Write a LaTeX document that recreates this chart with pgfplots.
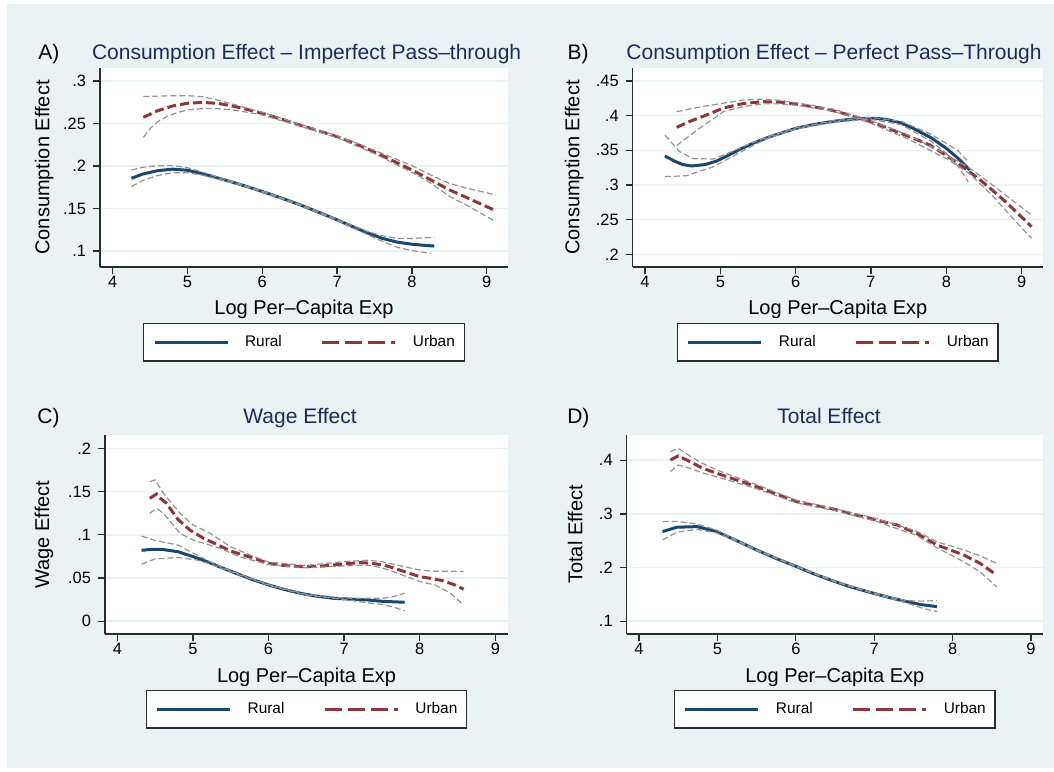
\documentclass[border=0pt]{standalone}
\usepackage{fontspec}
\setmainfont{Liberation Sans}
\usepackage{pgfplots}
\pgfplotsset{compat=1.18}

\definecolor{bgc}{HTML}{EAF2F3}
\definecolor{ttl}{HTML}{1C2C5A}
\definecolor{rural}{HTML}{1A476F}
\definecolor{urban}{HTML}{90353B}
\definecolor{cigray}{HTML}{939393}
\definecolor{axc}{HTML}{2B2B2B}

\pgfplotsset{
  panel/.style={
    scale only axis, height=99.5pt,
    axis x line*=bottom, axis y line*=left,
    axis line style={-, axc, line width=0.65pt},
    axis background/.style={fill=white},
    tick align=outside, major tick length=3.5pt,
    major tick style={axc, line width=0.65pt},
    ymajorgrids, grid style={bgc, line width=0.8pt},
    xtick={4,5,6,7,8,9}, xticklabels={4,5,6,7,8,9},
    tick label style={font=\fontsize{8.2}{9}\selectfont},
    xticklabel style={yshift=2.5pt},
    xlabel={Log Per–Capita Exp},
    label style={font=\fontsize{9.2}{11}\selectfont},
    every axis x label/.style={at={(axis description cs:0.5,0)}, anchor=base, yshift=-24pt},
    every axis title/.style={at={(0.5,1)}, anchor=base, font=\fontsize{10.5}{12}\selectfont, text=ttl},
    legend columns=2,
    legend style={at={(0.5,-0.378)}, anchor=center, draw=axc, line width=0.65pt, fill=white,
      font=\fontsize{7.7}{9}\selectfont, inner xsep=4.7pt, inner ysep=5.8pt,
      nodes={inner sep=0pt},
      column sep=8pt, /tikz/every even column/.append style={column sep=19.5pt}},
  },
  ylab/.style={every axis y label/.style={at={(axis description cs:0,0.5)}, xshift=-#1, rotate=90, anchor=center}},
  ttlpos/.style 2 args={title style={xshift=#1, yshift=#2}},
  rur/.style={rural, line width=1.5pt,
    legend image code/.code={\draw[##1] (0pt,0pt) -- (36.5pt,0pt);}},
  urb/.style={urban, line width=1.5pt, dash pattern=on 4.5pt off 2pt,
    legend image code/.code={\draw[##1, dash pattern=on 8.5pt off 3pt] (0pt,0pt) -- (36.5pt,0pt);}},
  ci/.style={cigray, line width=0.6pt, dash pattern=on 3pt off 1.5pt, forget plot},
}

\begin{document}
\begin{tikzpicture}
\fill[white] (0,0) rectangle (527pt,385.5pt);
\fill[bgc] (3.5pt,1.5pt) rectangle (527pt,383.5pt);

% A) consumption effect, imperfect pass-through
\begin{axis}[panel, name=A, at={(50pt,252pt)}, anchor=south west, width=204pt,
  xmin=3.830, xmax=9.285, ymin=0.0812, ymax=0.3153,
  ytick={.1,.15,.2,.25,.3}, yticklabels={.1,.15,.2,.25,.3},
  ylabel={Consumption Effect}, ylab=27.9pt,
  title={Consumption Effect – Imperfect Pass–through}, ttlpos={1.3pt}{4.4pt}]
\addplot[rur] coordinates {(4.25,.1855) (4.4,.1905) (4.6,.1945) (4.8,.1963) (5.0,.1950) (5.2,.1910) (5.4,.1860) (5.6,.1810) (5.8,.1757) (6.0,.1700) (6.25,.1625) (6.5,.1545) (6.75,.1457) (7.0,.1367) (7.2,.1290) (7.4,.1215) (7.6,.1150) (7.8,.1105) (8.0,.1080) (8.15,.1068) (8.3,.1058)};
\addlegendentry{Rural}
\addplot[urb] coordinates {(4.41,.2573) (4.6,.2650) (4.8,.2706) (5.0,.2738) (5.2,.2748) (5.4,.2738) (5.6,.2706) (5.8,.2665) (6.0,.2620) (6.25,.2553) (6.5,.2482) (6.75,.2415) (7.0,.2345) (7.25,.2262) (7.5,.2165) (7.75,.2060) (8.0,.1953) (8.25,.1838) (8.5,.1720) (8.75,.1622) (9.0,.1522) (9.12,.1475)};
\addlegendentry{Urban}
\addplot[ci] coordinates {(4.25,.1953) (4.4,.1985) (4.6,.2003) (4.8,.2005) (5.0,.1980) (5.2,.1928) (5.4,.1872) (5.6,.1818) (5.8,.1764) (6.0,.1707) (6.5,.1552) (7.0,.1375) (7.4,.1232) (7.6,.1180) (7.8,.1148) (8.0,.1148) (8.15,.1155) (8.3,.1160)};
\addplot[ci] coordinates {(4.25,.1757) (4.4,.1830) (4.6,.1888) (4.8,.1921) (5.0,.1920) (5.2,.1892) (5.4,.1848) (5.6,.1802) (5.8,.1750) (6.0,.1693) (6.5,.1538) (7.0,.1359) (7.4,.1195) (7.6,.1115) (7.8,.1045) (8.0,.1005) (8.15,.0985) (8.25,.0972)};
\addplot[ci] coordinates {(4.41,.2816) (4.6,.2822) (4.8,.2827) (5.0,.2827) (5.2,.2815) (5.4,.2776) (5.6,.2730) (5.8,.2680) (6.0,.2632) (6.5,.2492) (7.0,.2357) (7.5,.2185) (8.0,.2005) (8.25,.1895) (8.5,.1796) (8.75,.1735) (9.0,.1685) (9.12,.1659)};
\addplot[ci] coordinates {(4.41,.2337) (4.5,.2440) (4.6,.2520) (4.72,.2580) (4.85,.2625) (5.0,.2659) (5.2,.2675) (5.4,.2675) (5.6,.2660) (5.8,.2632) (6.0,.2600) (6.5,.2470) (7.0,.2333) (7.5,.2145) (8.0,.1925) (8.25,.1800) (8.5,.1645) (8.75,.1530) (9.0,.1405) (9.12,.1345)};
\end{axis}

% B) consumption effect, perfect pass-through
\begin{axis}[panel, name=B, at={(316.35pt,252pt)}, anchor=south west, width=205.15pt,
  xmin=3.837, xmax=9.283, ymin=0.1817, ymax=0.4688,
  ytick={.2,.25,.3,.35,.4,.45}, yticklabels={.2,.25,.3,.35,.4,.45},
  ylabel={Consumption Effect}, ylab=29.3pt,
  title={Consumption Effect – Perfect Pass–Through}, ttlpos={-1.9pt}{4.4pt}]
\addplot[rur] coordinates {(4.265,.3418) (4.4,.3340) (4.5,.3295) (4.62,.3274) (4.8,.3295) (4.95,.3345) (5.1,.3425) (5.26,.3515) (5.45,.3610) (5.66,.3697) (6.0,.3817) (6.25,.3875) (6.5,.3918) (6.75,.3950) (6.9,.3962) (7.05,.3962) (7.2,.3948) (7.4,.3895) (7.56,.3817) (7.8,.3680) (8.0,.3529) (8.15,.3390) (8.31,.3216)};
\addlegendentry{Rural}
\addplot[urb] coordinates {(4.42,.3832) (4.6,.3920) (4.77,.3990) (5.04,.4110) (5.3,.4175) (5.57,.4202) (5.8,.4195) (6.01,.4168) (6.25,.4125) (6.46,.4082) (6.7,.4015) (6.9,.3947) (7.1,.3875) (7.34,.3769) (7.55,.3680) (7.78,.3577) (7.95,.3460) (8.09,.3361) (8.27,.3220) (8.45,.3072) (8.6,.2935) (8.76,.2784) (8.95,.2590) (9.13,.2399)};
\addlegendentry{Urban}
\addplot[ci] coordinates {(4.265,.3720) (4.46,.3480) (4.64,.3380) (4.91,.3375) (5.17,.3490) (5.4,.3600) (5.66,.3705) (6.0,.3825) (6.5,.3928) (7.0,.3975) (7.4,.3920) (7.8,.3730) (8.0,.3600) (8.15,.3500) (8.27,.3360)};
\addplot[ci] coordinates {(4.265,.3120) (4.55,.3134) (4.91,.3264) (5.26,.3470) (5.5,.3605) (5.66,.3688) (6.0,.3808) (6.5,.3908) (7.0,.3948) (7.4,.3870) (7.8,.3630) (8.0,.3457) (8.15,.3280) (8.29,.3048)};
\addplot[ci] coordinates {(4.42,.4057) (4.7,.4120) (5.04,.4180) (5.3,.4225) (5.57,.4240) (5.8,.4220) (6.01,.4185) (6.5,.4095) (7.0,.3925) (7.5,.3720) (8.0,.3440) (8.3,.3250) (8.6,.3010) (8.9,.2760) (9.13,.2567)};
\addplot[ci] coordinates {(4.42,.3570) (4.7,.3800) (5.04,.4057) (5.3,.4130) (5.57,.4170) (5.8,.4170) (6.01,.4150) (6.5,.4065) (7.0,.3890) (7.5,.3660) (8.0,.3380) (8.3,.3170) (8.6,.2860) (8.9,.2500) (9.13,.2230)};
\end{axis}

% C) wage effect
\begin{axis}[panel, name=C, at={(52.5pt,68.5pt)}, anchor=south west, width=201.5pt,
  xmin=3.837, xmax=9.168, ymin=-0.0147, ymax=0.2154,
  ytick={0,.05,.1,.15,.2}, yticklabels={0,.05,.1,.15,.2},
  ylabel={Wage Effect}, ylab=30.5pt,
  title={Wage Effect}, ttlpos={-3.25pt}{5.85pt}]
\addplot[rur] coordinates {(4.32,.0820) (4.45,.0832) (4.6,.0830) (4.8,.0805) (5.0,.0748) (5.2,.0685) (5.4,.0613) (5.6,.0545) (5.8,.0478) (6.0,.0420) (6.2,.0370) (6.42,.0324) (6.6,.0295) (6.86,.0266) (7.1,.0255) (7.3,.0247) (7.52,.0230) (7.8,.0220)};
\addlegendentry{Rural}
\addplot[urb] coordinates {(4.43,.1422) (4.52,.1472) (4.57,.1422) (4.65,.1364) (4.8,.1180) (4.96,.1055) (5.14,.0960) (5.3,.0895) (5.5,.0812) (5.75,.0745) (6.0,.0670) (6.2,.0645) (6.42,.0632) (6.65,.0635) (6.86,.0651) (7.05,.0668) (7.21,.0678) (7.35,.0672) (7.52,.0651) (7.65,.0618) (7.8,.0574) (8.0,.0516) (8.15,.0495) (8.3,.0470) (8.45,.0425) (8.58,.0370)};
\addlegendentry{Urban}
\addplot[ci] coordinates {(4.32,.0985) (4.5,.0935) (4.8,.0882) (5.0,.0790) (5.2,.0700) (5.4,.0620) (5.6,.0550) (6.0,.0424) (6.5,.0312) (7.0,.0268) (7.3,.0266) (7.5,.0265) (7.65,.0285) (7.8,.0324)};
\addplot[ci] coordinates {(4.32,.0660) (4.5,.0722) (4.8,.0737) (5.05,.0709) (5.2,.0670) (5.4,.0605) (5.6,.0540) (6.0,.0416) (6.5,.0302) (7.0,.0252) (7.3,.0215) (7.5,.0195) (7.65,.0165) (7.8,.0120)};
\addplot[ci] coordinates {(4.43,.1614) (4.5,.1634) (4.61,.1480) (4.83,.1249) (5.0,.1115) (5.23,.1017) (5.5,.0860) (5.75,.0770) (6.0,.0685) (6.5,.0645) (7.0,.0690) (7.3,.0705) (7.5,.0690) (7.8,.0630) (8.0,.0593) (8.2,.0578) (8.4,.0580) (8.58,.0574)};
\addplot[ci] coordinates {(4.43,.1249) (4.52,.1306) (4.61,.1249) (4.83,.1017) (5.0,.0940) (5.36,.0844) (5.62,.0745) (6.0,.0655) (6.5,.0618) (7.0,.0640) (7.3,.0650) (7.5,.0620) (7.8,.0525) (8.0,.0460) (8.2,.0420) (8.4,.0330) (8.58,.0189)};
\end{axis}

% D) total effect
\begin{axis}[panel, name=D, at={(313.35pt,68.5pt)}, anchor=south west, width=208.15pt,
  xmin=3.843, xmax=9.153, ymin=0.0763, ymax=0.4471,
  ytick={.1,.2,.3,.4}, yticklabels={.1,.2,.3,.4},
  ylabel={Total Effect}, ylab=25.8pt,
  title={Total Effect}, ttlpos={-2.9pt}{5.85pt}]
\addplot[rur] coordinates {(4.3,.2671) (4.48,.2752) (4.74,.2764) (4.99,.2671) (5.25,.2500) (5.5,.2329) (5.75,.2170) (6.01,.2019) (6.22,.1890) (6.44,.1770) (6.7,.1640) (6.99,.1522) (7.2,.1440) (7.41,.1367) (7.6,.1310) (7.8,.1273)};
\addlegendentry{Rural}
\addplot[urb] coordinates {(4.4,.4006) (4.5,.4081) (4.65,.3975) (4.8,.3860) (4.99,.3758) (5.25,.3630) (5.5,.3509) (5.75,.3370) (6.01,.3230) (6.22,.3165) (6.44,.3106) (6.7,.3005) (6.99,.2901) (7.29,.2795) (7.54,.2640) (7.8,.2422) (8.14,.2236) (8.35,.2080) (8.56,.1863)};
\addlegendentry{Urban}
\addplot[ci] coordinates {(4.3,.2857) (4.48,.2860) (4.74,.2814) (4.99,.2700) (5.25,.2510) (5.5,.2337) (6.01,.2026) (6.5,.1750) (6.99,.1530) (7.41,.1385) (7.6,.1375) (7.8,.1385)};
\addplot[ci] coordinates {(4.3,.2516) (4.48,.2660) (4.74,.2714) (4.99,.2645) (5.25,.2490) (5.5,.2321) (6.01,.2012) (6.5,.1735) (6.99,.1514) (7.41,.1345) (7.6,.1250) (7.8,.1180)};
\addplot[ci] coordinates {(4.4,.4161) (4.5,.4224) (4.65,.4080) (4.8,.3950) (4.99,.3820) (5.25,.3680) (5.5,.3545) (6.01,.3255) (6.5,.3100) (7.0,.2925) (7.54,.2680) (7.8,.2480) (8.14,.2330) (8.35,.2220) (8.56,.2081)};
\addplot[ci] coordinates {(4.4,.3789) (4.5,.3913) (4.65,.3850) (4.8,.3770) (4.99,.3690) (5.25,.3580) (5.5,.3470) (6.01,.3205) (6.5,.3060) (7.0,.2875) (7.54,.2600) (7.8,.2370) (8.14,.2112) (8.35,.1920) (8.56,.1646)};
\end{axis}

\begin{scope}[every node/.style={anchor=base west, inner sep=0pt, font=\fontsize{10.5}{12}\selectfont}]
\node at ([xshift=-31pt,yshift=4.4pt]A.north west) {A)};
\node at ([xshift=-32.8pt,yshift=4.4pt]B.north west) {B)};
\node at ([xshift=-34pt,yshift=5.85pt]C.north west) {C)};
\node at ([xshift=-29.9pt,yshift=5.85pt]D.north west) {D)};
\end{scope}

\pgfresetboundingbox
\path (0,0) rectangle (527pt,385.5pt);
\end{tikzpicture}
\end{document}
